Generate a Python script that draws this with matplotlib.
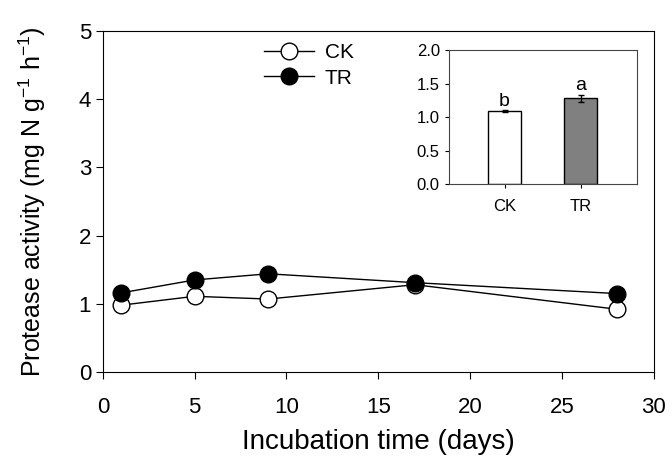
import numpy as np
import matplotlib
matplotlib.use("Agg")
import matplotlib.pyplot as plt

plt.rcParams['font.family'] = ['Liberation Sans', 'DejaVu Sans']
plt.rcParams['mathtext.fontset'] = 'custom'
plt.rcParams['mathtext.rm'] = 'Liberation Sans'

# time course data
days = [1, 5, 9, 17, 28]
ck = [0.98, 1.11, 1.07, 1.28, 0.92]
tr = [1.16, 1.35, 1.44, 1.31, 1.15]

# inset means
groups = ['CK', 'TR']
means = [1.09, 1.28]
errs = [0.01, 0.05]
letters = ['b', 'a']

fig = plt.figure(figsize=(6.72, 4.59), dpi=100)
ax = fig.add_axes([0.153, 0.1895, 0.820, 0.743])

ax.plot(days, ck, '-o', color='black', mfc='white', mec='black', ms=12, lw=1, label='CK', zorder=3)
ax.plot(days, tr, '-o', color='black', mfc='black', mec='black', ms=12, lw=1, label='TR', zorder=4)

ax.set_xlim(0, 30)
ax.set_ylim(0, 5)
ax.set_xticks([0, 5, 10, 15, 20, 25, 30])
ax.set_yticks([0, 1, 2, 3, 4, 5])
ax.tick_params(direction='out', labelsize=16, length=5)
ax.tick_params(axis='x', pad=13)
ax.set_xlabel('Incubation time (days)', fontsize=20, labelpad=8)
ax.set_ylabel('Protease activity (mg N g$^{\\mathrm{-1}}$ h$^{\\mathrm{-1}}$)', fontsize=18, labelpad=22)

ax.legend(loc='upper left', bbox_to_anchor=(0.27, 1.0), frameon=False, fontsize=15,
          handlelength=2.4, handletextpad=0.5, borderaxespad=0.2, labelspacing=0.3)

# inset bar chart
ins = fig.add_axes([0.668, 0.599, 0.280, 0.292])
pos = np.arange(1, len(groups) + 1)
ins.bar(pos, means, width=0.43, color=['white', '#808080'], edgecolor='black', lw=1,
        yerr=errs, capsize=2, error_kw=dict(lw=1, ecolor='black'))
for p, m, e, l in zip(pos, means, errs, letters):
    ins.text(p, m + e + 0.01, l, ha='center', va='bottom', fontsize=14)
ins.set_xlim(0.27, 2.74)
ins.set_ylim(0, 2.0)
ins.set_yticks([0.0, 0.5, 1.0, 1.5, 2.0])
ins.set_yticklabels(['0.0', '0.5', '1.0', '1.5', '2.0'])
ins.set_xticks(pos)
ins.set_xticklabels(groups)
ins.tick_params(direction='out', labelsize=12, length=3)
ins.tick_params(axis='x', pad=8)
for s in ins.spines.values():
    s.set_color('#444444')

fig.savefig('out.png', dpi=100)
